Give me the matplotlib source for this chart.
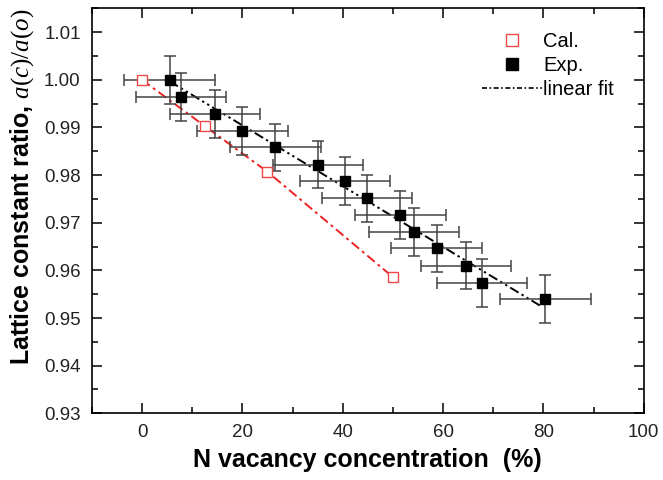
import matplotlib
matplotlib.use('Agg')
import matplotlib.pyplot as plt
from matplotlib.ticker import MultipleLocator

plt.rcParams['font.family'] = 'Liberation Sans'
plt.rcParams['mathtext.fontset'] = 'custom'
plt.rcParams['mathtext.it'] = 'Liberation Serif:italic'
plt.rcParams['mathtext.rm'] = 'Liberation Serif'

# calculated values
cal_x = [0, 12.5, 25, 50]
cal_y = [1.000, 0.9903, 0.9807, 0.9586]

# experimental values
exp_x = [5.5, 7.8, 14.6, 20.0, 26.6, 35.1, 40.5, 44.9, 51.5, 54.2, 58.7, 64.6, 67.7, 80.4]
exp_y = [1.000, 0.9964, 0.9928, 0.9893, 0.9858, 0.9822, 0.9787, 0.9751, 0.9716,
         0.9681, 0.9646, 0.9610, 0.9574, 0.9540]
exp_xerr = 9
exp_yerr = 0.005

# linear fit end points
fit_x = [5.5, 79.8]
fit_y = [0.9997, 0.9523]

fig = plt.figure(figsize=(6.63, 4.80), dpi=100)
ax = fig.add_axes([0.1385, 0.139, 0.8325, 0.8435])

ax.plot(cal_x, cal_y, color='#ee2222', lw=1.4, dashes=(5, 2, 1.5, 2), zorder=2)
ax.plot(fit_x, fit_y, color='black', lw=1.4, dashes=(5, 1.8, 1.2, 1.8, 1.2, 1.8), zorder=2)

ax.errorbar(exp_x, exp_y, xerr=exp_xerr, yerr=exp_yerr, fmt='none', ecolor='#444444',
            elinewidth=1.1, capsize=4, capthick=1.1, zorder=3)
ax.plot(exp_x, exp_y, 's', color='black', ms=7.3, zorder=4, label='Exp.')
ax.plot(cal_x, cal_y, 's', mfc='white', mec='#f04848', mew=1.0, ms=6.5, zorder=4, label='Cal.')

# legend handles
h_cal, = ax.plot([], [], 's', mfc='white', mec='#f04848', mew=1.0, ms=9)
h_exp, = ax.plot([], [], 's', color='black', ms=9)
h_fit, = ax.plot([], [], color='black', lw=1.2, dashes=(3, 1.5, 1, 1.5))
ax.legend([h_cal, h_exp, h_fit], ['Cal.', 'Exp.', 'linear fit'], loc='upper right',
          bbox_to_anchor=(0.964, 0.967), frameon=False, fontsize=14.5, handlelength=3.0,
          handletextpad=0.05, labelspacing=0.25, borderpad=0.0)

ax.set_xlim(-10, 100)
ax.set_ylim(0.93, 1.015)
ax.xaxis.set_major_locator(MultipleLocator(20))
ax.xaxis.set_minor_locator(MultipleLocator(10))
ax.yaxis.set_major_locator(MultipleLocator(0.01))
ax.yaxis.set_minor_locator(MultipleLocator(0.005))
ax.yaxis.set_major_formatter(matplotlib.ticker.FormatStrFormatter('%.2f'))

ax.tick_params(which='both', direction='in', top=True, right=True, labelsize=13.5,
               width=1.1, labelcolor='#222222')
ax.tick_params(which='major', length=7, pad=8)
ax.tick_params(which='minor', length=4)
for s in ax.spines.values():
    s.set_linewidth(1.2)

ax.set_xlabel('N vacancy concentration  (%)', fontsize=18, fontweight='bold', labelpad=5)
ax.set_ylabel('Lattice constant ratio, $\\mathit{a(c)/a(o)}$', fontsize=18, fontweight='bold')
ax.yaxis.set_label_coords(-0.101, 0.56)

fig.savefig('out.png', dpi=100)
